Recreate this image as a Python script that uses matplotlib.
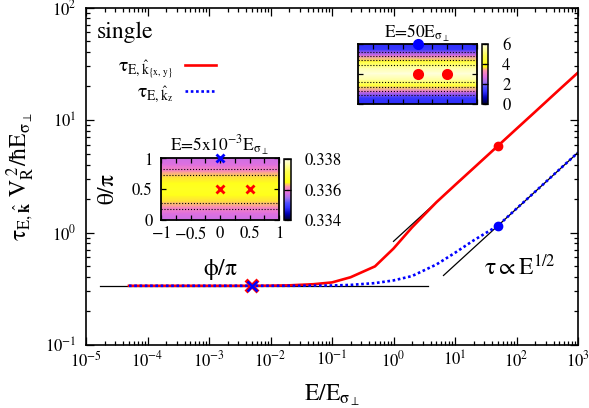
import numpy as np
import matplotlib
matplotlib.use('Agg')
import matplotlib.pyplot as plt
from matplotlib.colors import LinearSegmentedColormap
from matplotlib.ticker import LogLocator, NullFormatter, MultipleLocator

plt.rcParams['font.family'] = 'STIXGeneral'
plt.rcParams['mathtext.fontset'] = 'stix'
plt.rcParams['mathtext.default'] = 'regular'

# relaxation time vs field strength
E = [5e-5, 1e-4, 2e-4, 5e-4, 1e-3, 2e-3, 5e-3, 1e-2, 2e-2, 5e-2, 0.1, 0.2,
     0.5, 1, 2, 5, 10, 20, 50, 100, 200, 500, 1000]
tau_xy = [0.336, 0.336, 0.336, 0.336, 0.336, 0.336, 0.336, 0.337, 0.339, 0.347,
          0.36, 0.40, 0.50, 0.72, 1.11, 1.86, 2.64, 3.73, 5.9, 8.35, 11.8, 18.7, 26.4]
tau_z = [0.336, 0.336, 0.336, 0.336, 0.336, 0.336, 0.336, 0.336, 0.336, 0.337,
         0.338, 0.342, 0.355, 0.375, 0.41, 0.52, 0.66, 0.85, 1.15, 1.63, 2.3, 3.64, 5.14]

# low-field plateau and E^(1/2) asymptotes
E_flat = [1.7e-5, 3.6]
tau_flat = [0.336, 0.336]
E_fit_xy = [1.0, 1000]
tau_fit_xy = [0.834, 26.4]
E_fit_z = [6.5, 1000]
tau_fit_z = [0.415, 5.14]

# highlighted points
E_cross = [5e-3]
tau_cross = [0.336]
E_dot = [50]
tau_dot_xy = [5.9]
tau_dot_z = [1.15]

# angular maps tau(theta), constant in phi
theta = [0, 0.1, 0.2, 0.3, 0.4, 0.5, 0.6, 0.7, 0.8, 0.9, 1.0]
map_high = [1.15, 1.35, 2.8, 4.25, 5.45, 5.9, 5.45, 4.25, 2.8, 1.35, 1.15]
map_low = [0.3357, 0.3358, 0.3361, 0.3364, 0.3366, 0.3367, 0.3366, 0.3364,
           0.3361, 0.3358, 0.3357]
phi_edges = [-1, 1]
phi_red = [0, 0.5]
theta_red = [0.5, 0.5]
phi_blue = [0]
theta_blue = [1]

pal = LinearSegmentedColormap.from_list('pal', [
    (0.0, '#000030'), (0.1, '#0000b0'), (0.2, '#3030ff'), (0.28, '#5050ff'),
    (0.36, '#a070f0'), (0.45, '#e070e0'), (0.55, '#ff90b0'), (0.62, '#ffff10'),
    (0.8, '#ffff50'), (1.0, '#ffffe8')])

fig = plt.figure(figsize=(5.89, 4.08), dpi=100)
W, H = 589.0, 408.0


def rect(x0, y0, x1, y1):
    return [x0 / W, 1 - y1 / H, (x1 - x0) / W, (y1 - y0) / H]


ax = fig.add_axes(rect(86, 7.5, 578, 345))
ax.set_xscale('log')
ax.set_yscale('log')
ax.set_xlim(1e-5, 1e3)
ax.set_ylim(0.1, 100)

ax.plot(E_flat, tau_flat, color='k', lw=0.9)
ax.plot(E_fit_xy, tau_fit_xy, color='k', lw=0.9)
ax.plot(E_fit_z, tau_fit_z, color='k', lw=0.9)
l_xy, = ax.plot(E, tau_xy, color='#ff0000', lw=1.9)
l_z, = ax.plot(E, tau_z, color='#0000ff', lw=1.9, dashes=(1, 1))
ax.plot(E_cross, tau_cross, 'x', color='#ff0000', ms=8, mew=3, zorder=5)
ax.plot(E_cross, tau_cross, 'x', color='#0000ff', ms=7, mew=1.8, zorder=6)
ax.plot(E_dot, tau_dot_xy, 'o', color='#ff0000', ms=6, zorder=5)
ax.plot(E_dot, tau_dot_z, 'o', color='#0000ff', ms=6, zorder=5)

ax.xaxis.set_major_locator(LogLocator(base=10, numticks=20))
ax.xaxis.set_minor_locator(LogLocator(base=10, subs=np.arange(2, 10), numticks=20))
ax.xaxis.set_minor_formatter(NullFormatter())
ax.yaxis.set_minor_formatter(NullFormatter())
ax.tick_params(which='both', direction='in', top=True, right=True, width=0.9)
ax.tick_params(which='major', length=6, labelsize=12)
ax.tick_params(which='minor', length=3)
ax.tick_params(axis='x', pad=4)
ax.tick_params(axis='y', pad=7)
for s in ax.spines.values():
    s.set_linewidth(1.2)

ax.set_xlabel(r'$E/E_{\sigma_\perp}$', fontsize=17)
ax.xaxis.set_label_coords(0.5, -0.11)
ax.set_ylabel(r'$\tau_{E,\hat{\mathbf{k}}}\ V_R^{\ 2}/\hbar E_{\sigma_\perp}$', fontsize=17)
ax.yaxis.set_label_coords(-0.1, 0.5)

ax.legend([l_xy, l_z], [r'$\tau_{E,\hat{k}_{\{x,\,y\}}}$', r'$\tau_{E,\hat{k}_z}$'],
          loc='upper right', bbox_to_anchor=(226 / W, 1 - 48 / H),
          bbox_transform=fig.transFigure, frameon=False, markerfirst=False,
          fontsize=14, handlelength=1.6, handletextpad=0.6, borderpad=0,
          labelspacing=0.2)

fig.text(97 / W, 1 - 38 / H, 'single', fontsize=17, va='baseline')
fig.text(484 / W, 1 - 275 / H, r'$\tau \propto E^{1/2}$', fontsize=17, va='baseline')


def angle_map(box, cbox, values, vmin, vmax, levels, cticks, cfmt, title, marker,
              labels):
    a = fig.add_axes(rect(*box))
    z = np.column_stack([values, values])
    m = a.pcolormesh(phi_edges, theta, z, shading='gouraud', cmap=pal,
                     vmin=vmin, vmax=vmax)
    a.contour(phi_edges, theta, z, levels=levels, colors='k', linestyles=':',
              linewidths=0.8)
    a.set_xlim(-1, 1)
    a.set_ylim(0, 1)
    a.plot(phi_red, theta_red, marker, color='#ff0000', ms=6, mew=2,
           clip_on=False, zorder=5)
    a.plot(phi_blue, theta_blue, marker, color='#0000ff', ms=6, mew=2,
           clip_on=False, zorder=5)
    a.xaxis.set_major_locator(MultipleLocator(0.5))
    a.xaxis.set_minor_locator(MultipleLocator(0.25))
    a.yaxis.set_major_locator(MultipleLocator(0.5))
    a.tick_params(which='both', direction='in', top=True, right=True, length=3.5,
                  width=0.9, labelsize=12)
    for s in a.spines.values():
        s.set_linewidth(1.3)
    if labels:
        a.set_xticklabels(['', r'$-1$', r'$-0.5$', '0', '0.5', '1'])
        a.yaxis.set_major_formatter(plt.FuncFormatter(lambda v, p: '%g' % v))
        a.set_xlabel(r'$\phi/\pi$', fontsize=17)
        a.set_ylabel(r'$\theta/\pi$', fontsize=17)
        a.xaxis.set_label_coords(0.5, -0.62)
        a.yaxis.set_label_coords(-0.36, 0.5)
        a.tick_params(axis='x', pad=5)
        a.tick_params(axis='y', pad=6)
    else:
        a.set_xticklabels([])
        a.set_yticklabels([])
    a.set_title(title, fontsize=12.5, pad=3)
    c = fig.add_axes(rect(*cbox))
    cb = fig.colorbar(m, cax=c, ticks=cticks, format=cfmt)
    cb.outline.set_linewidth(1.1)
    c.tick_params(direction='in', length=3, width=0.9, left=True, right=True,
                  labelsize=12, pad=10)
    return a


angle_map((358.3, 43.5, 477, 103.5), (482.3, 43.5, 488.3, 104),
          map_high, 0, 6, [2, 3, 4, 5], [0, 2, 4, 6], '%g',
          r'E=50E$_{\sigma_\perp}$', 'o', False)
angle_map((161, 158.5, 279, 219.5), (284, 159.3, 290.7, 220),
          map_low, 0.334, 0.338, [0.336, 0.3363], [0.334, 0.336, 0.338], '%.3f',
          r'E=5x10$^{-3}$E$_{\sigma_\perp}$', 'x', True)

fig.savefig('out.png', dpi=100)
